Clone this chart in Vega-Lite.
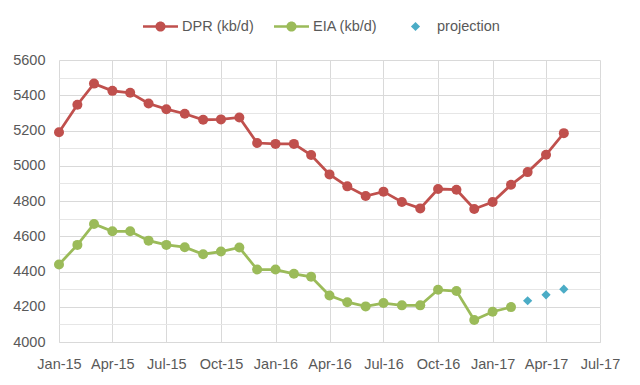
{
  "$schema": "https://vega.github.io/schema/vega-lite/v6.json",
  "width": 541,
  "height": 282,
  "autosize": {"type": "none"},
  "padding": {"left": 59, "top": 60, "right": 40, "bottom": 43},
  "background": "white",
  "config": {
    "view": {"stroke": null},
    "font": "Liberation Sans",
    "axis": {"labelFont": "Liberation Sans", "labelFontSize": 14.5, "labelColor": "#595959", "ticks": false, "domain": false, "title": null},
    "legend": {"labelFont": "Liberation Sans", "labelFontSize": 14.5, "labelColor": "#595959"}
  },
  "data": {
    "values": [
      {"month": "2015-01-01", "series": "DPR (kb/d)", "value": 5190},
      {"month": "2015-02-01", "series": "DPR (kb/d)", "value": 5346},
      {"month": "2015-03-01", "series": "DPR (kb/d)", "value": 5466},
      {"month": "2015-04-01", "series": "DPR (kb/d)", "value": 5425},
      {"month": "2015-05-01", "series": "DPR (kb/d)", "value": 5414},
      {"month": "2015-06-01", "series": "DPR (kb/d)", "value": 5353},
      {"month": "2015-07-01", "series": "DPR (kb/d)", "value": 5321},
      {"month": "2015-08-01", "series": "DPR (kb/d)", "value": 5295},
      {"month": "2015-09-01", "series": "DPR (kb/d)", "value": 5261},
      {"month": "2015-10-01", "series": "DPR (kb/d)", "value": 5263},
      {"month": "2015-11-01", "series": "DPR (kb/d)", "value": 5274},
      {"month": "2015-12-01", "series": "DPR (kb/d)", "value": 5129},
      {"month": "2016-01-01", "series": "DPR (kb/d)", "value": 5124},
      {"month": "2016-02-01", "series": "DPR (kb/d)", "value": 5124},
      {"month": "2016-03-01", "series": "DPR (kb/d)", "value": 5061},
      {"month": "2016-04-01", "series": "DPR (kb/d)", "value": 4951},
      {"month": "2016-05-01", "series": "DPR (kb/d)", "value": 4883},
      {"month": "2016-06-01", "series": "DPR (kb/d)", "value": 4828},
      {"month": "2016-07-01", "series": "DPR (kb/d)", "value": 4853},
      {"month": "2016-08-01", "series": "DPR (kb/d)", "value": 4794},
      {"month": "2016-09-01", "series": "DPR (kb/d)", "value": 4758},
      {"month": "2016-10-01", "series": "DPR (kb/d)", "value": 4868},
      {"month": "2016-11-01", "series": "DPR (kb/d)", "value": 4864},
      {"month": "2016-12-01", "series": "DPR (kb/d)", "value": 4755},
      {"month": "2017-01-01", "series": "DPR (kb/d)", "value": 4794},
      {"month": "2017-02-01", "series": "DPR (kb/d)", "value": 4892},
      {"month": "2017-03-01", "series": "DPR (kb/d)", "value": 4964},
      {"month": "2017-04-01", "series": "DPR (kb/d)", "value": 5062},
      {"month": "2017-05-01", "series": "DPR (kb/d)", "value": 5185},
      {"month": "2015-01-01", "series": "EIA (kb/d)", "value": 4440},
      {"month": "2015-02-01", "series": "EIA (kb/d)", "value": 4551},
      {"month": "2015-03-01", "series": "EIA (kb/d)", "value": 4670},
      {"month": "2015-04-01", "series": "EIA (kb/d)", "value": 4628},
      {"month": "2015-05-01", "series": "EIA (kb/d)", "value": 4628},
      {"month": "2015-06-01", "series": "EIA (kb/d)", "value": 4575},
      {"month": "2015-07-01", "series": "EIA (kb/d)", "value": 4551},
      {"month": "2015-08-01", "series": "EIA (kb/d)", "value": 4538},
      {"month": "2015-09-01", "series": "EIA (kb/d)", "value": 4498},
      {"month": "2015-10-01", "series": "EIA (kb/d)", "value": 4513},
      {"month": "2015-11-01", "series": "EIA (kb/d)", "value": 4536},
      {"month": "2015-12-01", "series": "EIA (kb/d)", "value": 4411},
      {"month": "2016-01-01", "series": "EIA (kb/d)", "value": 4411},
      {"month": "2016-02-01", "series": "EIA (kb/d)", "value": 4387},
      {"month": "2016-03-01", "series": "EIA (kb/d)", "value": 4370},
      {"month": "2016-04-01", "series": "EIA (kb/d)", "value": 4264},
      {"month": "2016-05-01", "series": "EIA (kb/d)", "value": 4226},
      {"month": "2016-06-01", "series": "EIA (kb/d)", "value": 4202},
      {"month": "2016-07-01", "series": "EIA (kb/d)", "value": 4221},
      {"month": "2016-08-01", "series": "EIA (kb/d)", "value": 4208},
      {"month": "2016-09-01", "series": "EIA (kb/d)", "value": 4208},
      {"month": "2016-10-01", "series": "EIA (kb/d)", "value": 4296},
      {"month": "2016-11-01", "series": "EIA (kb/d)", "value": 4289},
      {"month": "2016-12-01", "series": "EIA (kb/d)", "value": 4125},
      {"month": "2017-01-01", "series": "EIA (kb/d)", "value": 4172},
      {"month": "2017-02-01", "series": "EIA (kb/d)", "value": 4198},
      {"month": "2017-03-01", "series": "projection", "value": 4234},
      {"month": "2017-04-01", "series": "projection", "value": 4268},
      {"month": "2017-05-01", "series": "projection", "value": 4300}
    ]
  },
  "encoding": {
    "x": {
      "field": "month",
      "type": "temporal",
      "scale": {"type": "utc", "domain": [{"year": 2015, "month": 1, "date": 1, "utc": true}, {"year": 2017, "month": 7, "date": 1, "utc": true}]},
      "axis": {
        "labelExpr": "utcFormat(datum.value, '%b-%y')",
        "values": [
          {"year": 2015, "month": 1, "date": 1, "utc": true},
          {"year": 2015, "month": 4, "date": 1, "utc": true},
          {"year": 2015, "month": 7, "date": 1, "utc": true},
          {"year": 2015, "month": 10, "date": 1, "utc": true},
          {"year": 2016, "month": 1, "date": 1, "utc": true},
          {"year": 2016, "month": 4, "date": 1, "utc": true},
          {"year": 2016, "month": 7, "date": 1, "utc": true},
          {"year": 2016, "month": 10, "date": 1, "utc": true},
          {"year": 2017, "month": 1, "date": 1, "utc": true},
          {"year": 2017, "month": 4, "date": 1, "utc": true},
          {"year": 2017, "month": 7, "date": 1, "utc": true}
        ],
        "grid": true,
        "gridColor": "#D9D9D9",
        "gridWidth": 1,
        "labelPadding": 15,
        "labelOverlap": false,
        "labelFlush": false,
        "domain": true,
        "domainColor": "#D9D9D9"
      }
    },
    "y": {
      "field": "value",
      "type": "quantitative",
      "scale": {"domain": [4000, 5600], "nice": false, "zero": false},
      "axis": {
        "values": [4000, 4100, 4200, 4300, 4400, 4500, 4600, 4700, 4800, 4900, 5000, 5100, 5200, 5300, 5400, 5500, 5600],
        "labelExpr": "datum.value % 200 === 0 ? datum.label : ''",
        "format": "d",
        "grid": true,
        "gridColor": {"condition": {"test": "datum.value % 200 === 0", "value": "#D9D9D9"}, "value": "#E6E6E6"},
        "labelPadding": 14,
        "labelOverlap": false,
        "labelFlush": false
      }
    },
    "color": {
      "field": "series",
      "type": "nominal",
      "scale": {"domain": ["DPR (kb/d)", "EIA (kb/d)", "projection"], "range": ["#C0504D", "#9BBB59", "#4BACC6"]},
      "legend": {
        "title": null,
        "orient": "none",
        "direction": "horizontal",
        "columns": 3,
        "legendX": 84,
        "legendY": -51,
        "symbolSize": 1225,
        "symbolStrokeWidth": 0,
        "symbolOpacity": 1,
        "labelOffset": 4,
        "columnPadding": 20,
        "encode": {
          "symbols": {
            "update": {
              "shape": {"signal": "datum.value === 'projection' ? 'M-0.26,0L0,-0.26L0.26,0L0,0.26Z' : 'M-1,-0.075H1V0.075H-1Z M-0.29,0A0.29,0.29 0 1,1 0.29,0A0.29,0.29 0 1,1 -0.29,0Z'"},
              "fill": {"signal": "datum.value === 'DPR (kb/d)' ? '#C0504D' : datum.value === 'EIA (kb/d)' ? '#9BBB59' : '#4BACC6'"},
              "fillOpacity": {"value": 1},
              "strokeWidth": {"value": 0},
              "opacity": {"value": 1}
            }
          }
        }
      }
    }
  },
  "layer": [
    {
      "transform": [{"filter": "datum.series !== 'projection'"}],
      "mark": {"type": "line", "strokeWidth": 2.75}
    },
    {
      "transform": [{"filter": "datum.series !== 'projection'"}],
      "mark": {"type": "point", "shape": "circle", "filled": true, "size": 100, "opacity": 1}
    },
    {
      "transform": [{"filter": "datum.series === 'projection'"}],
      "mark": {"type": "point", "shape": "diamond", "filled": true, "size": 85, "opacity": 1}
    }
  ]
}
